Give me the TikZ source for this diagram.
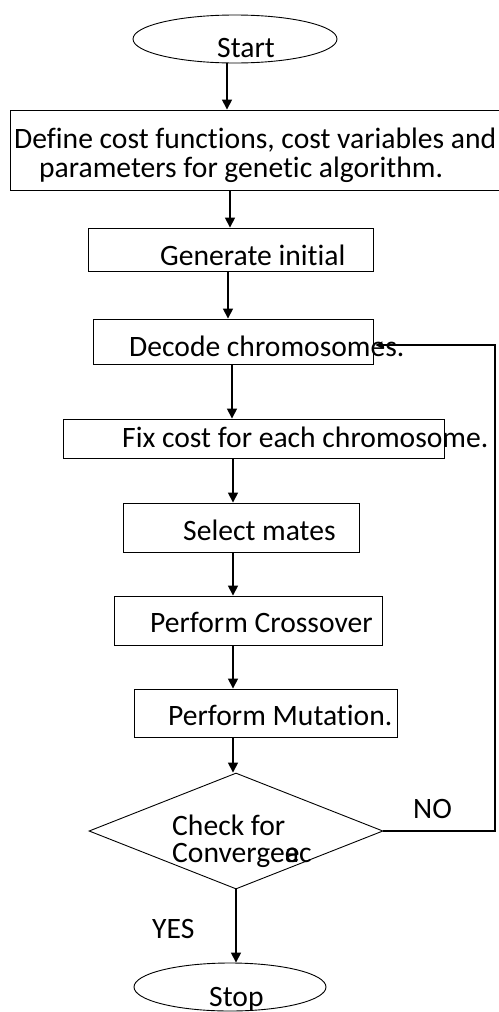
\documentclass[tikz,border=0pt]{standalone}
\usepackage{fontspec}
\setmainfont[Ligatures=NoCommon]{Carlito}
\usepackage{tikz}
\usetikzlibrary{shapes.geometric,arrows.meta,positioning}
\tikzstyle{terminal}=[draw,ellipse,line width=0.9pt,inner sep=0pt]
\tikzstyle{process}=[draw,rectangle,line width=0.9pt,inner sep=0pt]
\tikzstyle{decision}=[draw,diamond,line width=0.9pt,inner sep=0pt,minimum width=294pt,minimum height=116pt]
\tikzstyle{txt}=[inner sep=0pt,anchor=base west,font=\fontsize{29.6}{30}\selectfont]
\tikzstyle{arr}=[line width=1.6pt,-{Triangle[width=10pt,length=10pt]}]
\tikzstyle{loopline}=[line width=1.3pt,-{Triangle[width=7pt,length=7pt]}]

\begin{document}
\begin{tikzpicture}[x=1pt,y=-1pt]
\useasboundingbox (0,0) rectangle (498,1012);

\node [terminal,minimum width=204pt,minimum height=48pt] (start) at (235,39) {};
\node [process,minimum width=505pt,minimum height=80pt] (define) at (262.5,150) {};
\node [process,minimum width=285pt,minimum height=43pt] (generate) at (230.5,249.5) {};
\node [process,minimum width=280pt,minimum height=45pt] (decode) at (233,341.5) {};
\node [process,minimum width=381pt,minimum height=39pt] (fixcost) at (253.5,438.5) {};
\node [process,minimum width=236pt,minimum height=49pt] (select) at (241,527.5) {};
\node [process,minimum width=268pt,minimum height=49pt] (crossover) at (248,620.5) {};
\node [process,minimum width=263pt,minimum height=48pt] (mutation) at (265.5,713) {};
\node [decision] (check) at (236,831) {};
\node [terminal,minimum width=192pt,minimum height=48pt] (stop) at (230,987) {};

\node [txt] (startlbl) at (217,57) {Start};
\node [txt] (definelbl) at (14,148) {Define cost functions, cost variables and};
\node [txt] (definelblb) at (39,177) {parameters for genetic algorithm.};
\node [txt] (generatelbl) at (160,265) {Generate initial};
\node [txt] (decodelbl) at (129,356) {Decode chromosomes.};
\node [txt] (fixcostlbl) at (122,447) {Fix cost for each chromosome.};
\node [txt] (selectlbl) at (183,540) {Select mates};
\node [txt] (crossoverlbl) at (150,632) {Perform Crossover};
\node [txt] (mutationlbl) at (168,725) {Perform Mutation.};
\node [txt] (checklbl) at (172,835) {Check for};
\begin{scope}
  \clip (150,840) rectangle (340,867);
  \node [txt] (checklblb) at (172,862) {Converge\rlap{e}ac};
\end{scope}
\node [txt] (nolbl) at (413,818) {NO};
\node [txt] (yeslbl) at (152,938) {YES};
\node [txt] (stoplbl) at (209,1006) {Stop};

\coordinate (spine) at (233,0);
\coordinate (loop) at (495,831);

\draw [arr] ([xshift=-6pt]spine |- start.south) -- ([xshift=-6pt]spine |- define.north);
\draw [arr] ([xshift=-3pt]spine |- define.south) -- ([xshift=-3pt]spine |- generate.north);
\draw [arr] ([xshift=-5pt]spine |- generate.south) -- ([xshift=-5pt]spine |- decode.north);
\draw [arr] ([xshift=-1pt]spine |- decode.south) -- ([xshift=-1pt]spine |- fixcost.north);
\draw [arr] (spine |- fixcost.south) -- (spine |- select.north);
\draw [arr] (spine |- select.south) -- (spine |- crossover.north);
\draw [arr] (spine |- crossover.south) -- (spine |- mutation.north);
\draw [arr] (spine |- mutation.south) -- (spine |- check.north);
\draw [arr] (check.south) -- (check.south |- stop.north);
\draw [loopline] (check.east) -- (loop) |- ([yshift=-3.5pt,xshift=2pt]decode.east);
\end{tikzpicture}
\end{document}
